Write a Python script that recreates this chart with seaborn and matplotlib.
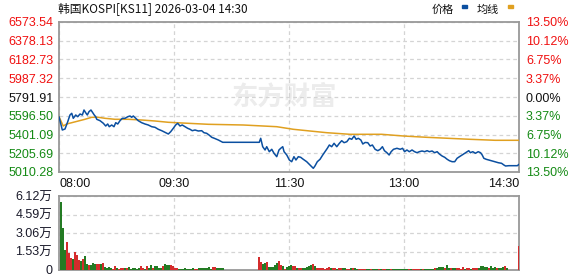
import numpy as np
import pandas as pd
import matplotlib
matplotlib.use("Agg")
import matplotlib.pyplot as plt
import seaborn as sns
from matplotlib.patches import Rectangle

# ---------------- data ----------------
title_text = "韩国KOSPI[KS11] 2026-03-04 14:30"
legend_labels = ["价格", "均线"]
watermark = "东方财富"

time_labels = ["08:00", "09:30", "11:30", "13:00", "14:30"]
time_ticks = [0, 97.5, 195, 292.5, 390]   # minutes from open (390-minute session)

price_ticks = [5010.28, 5205.69, 5401.09, 5596.50, 5791.91,
               5987.32, 6182.73, 6378.13, 6573.54]
pct_labels = ["13.50%", "10.12%", "6.75%", "3.37%", "0.00%",
              "3.37%", "6.75%", "10.12%", "13.50%"]          # bottom -> top

vol_ticks = [0, 1.53, 3.06, 4.59, 6.12]                       # in 万
vol_labels = ["0", "1.53万", "3.06万", "4.59万", "6.12万"]

price_t = [0, 1.7, 2.8, 5.1, 7.4, 9.3, 10.8, 12.1, 14.2, 15.9, 17.8, 19.8, 21.2, 22.6,
           24.0, 25.4, 27.1, 28.6, 29.9, 31.1, 32.0, 34.8, 37.6, 39.6, 41.3, 42.6, 44.7,
           46.6, 48.1, 49.8, 51.7, 53.7, 56.0, 58.3, 60.2, 61.6, 63.0, 65.0, 67.2, 70.1,
           72.9, 75.7, 78.6, 81.4, 84.2, 87.1, 89.9, 92.7, 94.7, 96.9, 98.9, 100.6, 102.6,
           104.5, 106.8, 109.1, 111.1, 113.0, 115.3, 118.1, 121.0, 122.9, 125.2, 127.2,
           129.5, 131.7, 135.1, 138.8, 169.8, 171.0, 172.7, 174.7, 176.1, 178.3, 180.4,
           182.3, 184.6, 186.5, 188.0, 189.7, 190.8, 193.1, 195.3, 197.3, 199.2, 200.9,
           202.9, 204.9, 207.1, 210.0, 212.8, 215.6, 217.0, 219.0, 221.3, 223.6, 225.5,
           227.5, 229.2, 231.2, 233.2, 235.5, 237.7, 239.7, 241.7, 244.0, 246.2, 248.2,
           250.2, 251.9, 253.8, 255.9, 257.6, 259.5, 261.8, 263.8, 265.7, 268.0, 270.3,
           272.3, 274.2, 275.9, 278.0, 279.9, 281.6, 283.6, 286.5, 289.3, 291.3, 293.0,
           295.0, 297.0, 299.3, 301.5, 303.5, 305.5, 307.8, 310.0, 312.1, 314.0, 316.3,
           318.5, 320.6, 322.5, 324.8, 327.0, 329.1, 331.0, 333.3, 335.5, 337.5, 339.5,
           341.8, 344.0, 346.0, 347.4, 348.8, 350.8, 353.1, 355.4, 357.4, 358.8, 360.2,
           362.2, 364.4, 366.7, 369.5, 372.4, 375.2, 377.2, 378.6, 381.4, 385.7, 388.6,
           390.0]
price_v = [5586.6, 5500.1, 5448.0, 5458.4, 5534.5, 5604.3, 5622.0, 5569.9, 5604.3, 5586.6,
           5614.7, 5604.3, 5656.4, 5628.3, 5604.3, 5638.7, 5656.4, 5628.3, 5604.3, 5586.6,
           5559.5, 5544.9, 5517.8, 5489.7, 5510.5, 5482.4, 5500.1, 5482.4, 5524.1, 5510.5,
           5544.9, 5569.9, 5569.9, 5586.6, 5593.9, 5580.4, 5593.9, 5569.9, 5544.9, 5524.1,
           5510.5, 5500.1, 5482.4, 5476.2, 5455.3, 5440.7, 5424.0, 5406.3, 5430.3, 5465.7,
           5500.1, 5517.8, 5489.7, 5500.1, 5482.4, 5465.7, 5455.3, 5440.7, 5448.0, 5437.6,
           5440.7, 5419.9, 5413.6, 5395.9, 5371.9, 5361.5, 5343.8, 5319.8, 5319.8, 5361.5,
           5274.0, 5239.6, 5274.0, 5221.9, 5246.9, 5205.2, 5169.8, 5239.6, 5257.3, 5274.0,
           5221.9, 5187.5, 5135.4, 5117.6, 5169.8, 5135.4, 5169.8, 5163.5, 5142.7, 5117.6,
           5083.2, 5048.8, 5072.8, 5117.6, 5142.7, 5187.5, 5221.9, 5257.3, 5291.7, 5274.0,
           5309.4, 5274.0, 5309.4, 5336.5, 5315.7, 5326.1, 5361.5, 5351.1, 5385.5, 5351.1,
           5361.5, 5343.8, 5302.1, 5318.0, 5315.7, 5281.3, 5291.7, 5246.9, 5232.3, 5246.9,
           5274.0, 5232.3, 5211.4, 5187.5, 5221.9, 5246.9, 5257.3, 5246.9, 5257.3, 5221.9,
           5239.6, 5221.9, 5239.6, 5221.9, 5211.4, 5221.9, 5229.2, 5221.9, 5232.3, 5221.9,
           5229.2, 5211.4, 5221.9, 5197.9, 5177.0, 5163.5, 5142.7, 5128.1, 5117.6, 5117.6,
           5153.1, 5169.8, 5187.5, 5205.2, 5221.9, 5232.3, 5211.4, 5221.9, 5205.2, 5221.9,
           5211.4, 5187.5, 5153.1, 5142.7, 5135.4, 5128.1, 5117.6, 5107.2, 5101.0, 5083.2,
           5072.8, 5076.0, 5076.0, 5076.0, 5090.5]

avg_t = [0, 3.6, 6.5, 10.8, 16.4, 22.0, 27.7, 33.3, 39.0, 47.5, 58.8, 70.1, 81.4, 92.7,
         109.6, 126.6, 156.3, 184.6, 198.7, 212.8, 227.0, 246.7, 273.6, 291.9, 311.7,
         330.1, 348.5, 369.7, 390]
avg_v = [5586.6, 5489.7, 5510.5, 5524.1, 5541.8, 5559.5, 5580.4, 5580.4, 5569.9, 5559.5,
         5559.5, 5552.2, 5541.8, 5528.3, 5517.8, 5507.4, 5500.1, 5482.4, 5455.3, 5437.6,
         5419.9, 5403.2, 5403.2, 5385.5, 5371.9, 5361.5, 5351.1, 5340.7, 5340.7]

# volume per bar (万), bar index 0..229 spans the session
vol_wan = [5.66, 3.50, 1.66, 2.29, 1.40, 1.00, 0.91, 1.45, 1.25, 0.83,
           0.75, 0.95, 1.15, 0.50, 0.41, 0.40, 0.60, 0.50, 0.47, 0.50,
           0.50, 0.58, 0.25, 0.20, 0.28, 0.14, 0.10, 0.33, 0.19, 0.10,
           0.14, 0.14, 0.17, 0.17, 0.28, 0.08, 0.14, 0.14, 0.10, 0.19,
           0.33, 0.19, 0.10, 0.33, 0.19, 0.41, 0.19, 0.33, 0.33, 0.19,
           0.19, 0.33, 0.50, 0.45, 0.41, 0.41, 0.33, 0.19, 0.19, 0.08,
           0.08, 0.08, 0.19, 0.08, 0.08, 0.08, 0.19, 0.08, 0.08, 0.14,
           0.14, 0.14, 0.19, 0.19, 0.28, 0.10, 0.28, 0.28, 0.19, 0.19,
           0.19, 0.14, 0, 0, 0, 0, 0, 0, 0, 0,
           0, 0, 0, 0, 0, 0, 0, 0, 0, 1.10,
           0.69, 0.47, 0.61, 0.63, 0.28, 0.28, 0.28, 0.41, 0.61, 0.75,
           0.41, 0.36, 0.06, 0.22, 0.36, 0.41, 0.33, 0.33, 0.19, 0.16,
           0.14, 0.17, 0.17, 0.25, 0.36, 0.41, 0.47, 0.33, 0.19, 0.14,
           0.14, 0.19, 0.11, 0.14, 0.28, 0.19, 0.14, 0.19, 0.11, 0.14,
           0.14, 0.19, 0.19, 0.11, 0.11, 0.19, 0.19, 0.14, 0.11, 0.08,
           0.08, 0.08, 0.08, 0.08, 0.08, 0.08, 0.08, 0.08, 0.08, 0.08,
           0.08, 0.08, 0.08, 0.08, 0.08, 0.08, 0.08, 0.08, 0.08, 0.08,
           0.08, 0.08, 0.08, 0.08, 0.08, 0.08, 0.08, 0.08, 0.08, 0.08,
           0.08, 0.08, 0.08, 0.08, 0.08, 0.08, 0.08, 0.14, 0.14, 0.28,
           0.28, 0.28, 0.19, 0.41, 0.19, 0.14, 0.19, 0.19, 0.14, 0.14,
           0.11, 0.28, 0.11, 0.14, 0.19, 0.11, 0.14, 0.14, 0.19, 0.19,
           0.33, 0.33, 0.25, 0.28, 0.19, 0.33, 0.19, 0.25, 0.19, 0.19,
           0.14, 0.25, 0.33, 0.14, 0, 0, 0, 0, 0, 1.99]
vol_dir = ("GGGRRRGRRR" "GRGGRGGGRR" "GRGGGGRRGR" "RRGRGGGGGG" "RRGRGGRGGG"
           "GRGGGRRRRG" "GGGGGGGRRG" "GGGGGGRRGG" "GGGGGGGGGG" "GGGGGGGGGR"
           "RGGRGGGGGR" "RGRGGGRRGR" "RGGGGGRGRR" "RRRRRGRRGR" "RGGRRGRGGR"
           "RRRGGRGGGR" "GRRGGRGGGG" "GGGGRGRRRR" "GRGGGGGRGG" "GGRGGRGGRR"
           "RRGRRGRRRG" "GGGGRGGGRG" "GGRGGGGGGR")

# ---------------- style ----------------
sns.set_style("white")
plt.rcParams['font.family'] = ['Liberation Sans', 'Noto Sans CJK SC', 'DejaVu Sans']

BLUE = "#0b4fa0"
GOLD = "#e0a020"
RED = "#f01010"
GREEN = "#148a14"
SPINE = "#999999"
GRID = "#d4d4d4"
DASH = (0, (3, 2.5))

W, H = 578, 276
fig = plt.figure(figsize=(W / 100, H / 100), dpi=100)
ax = fig.add_axes([59 / W, 1 - 172 / H, 460 / W, 150 / H])
axv = fig.add_axes([59 / W, 1 - 270 / H, 460 / W, 74 / H])

# ---------------- price panel ----------------
ax.text(0.49, 0.5, watermark, transform=ax.transAxes, ha='center', va='center',
        fontsize=19, fontweight='bold', color='#ececec', style='italic',
        family=['Noto Sans CJK SC'], zorder=0)

sns.lineplot(x=avg_t, y=avg_v, ax=ax, color=GOLD, linewidth=1.1,
             sort=False, estimator=None, zorder=3)
sns.lineplot(x=price_t, y=price_v, ax=ax, color=BLUE, linewidth=1.1,
             sort=False, estimator=None, zorder=4)

ax.set_xlim(time_ticks[0], time_ticks[-1])
ax.set_ylim(price_ticks[0], price_ticks[-1])
ax.set_xticks(time_ticks)
ax.set_xticklabels(time_labels)
ax.set_yticks(price_ticks)
ax.set_yticklabels([f"{v:.2f}" for v in price_ticks])
ax.set_xlabel("")
ax.set_ylabel("")
ax.grid(True, color=GRID, linestyle=DASH, linewidth=0.9)
ax.tick_params(length=0, labelsize=9, pad=4)
ax.tick_params(axis='x', pad=4)
xl = ax.get_xticklabels()
xl[0].set_ha('left')
xl[-1].set_ha('right')
for lab in xl:
    lab.set_color('#111111')

n_mid = len(price_ticks) // 2
for i, lab in enumerate(ax.get_yticklabels()):
    lab.set_color(RED if i > n_mid else ('#111111' if i == n_mid else GREEN))

ax2 = ax.twinx()
ax2.set_ylim(price_ticks[0], price_ticks[-1])
ax2.set_yticks(price_ticks)
ax2.set_yticklabels(pct_labels)
ax2.tick_params(length=0, labelsize=9, pad=5)
for i, lab in enumerate(ax2.get_yticklabels()):
    lab.set_color(RED if i > n_mid else ('#111111' if i == n_mid else GREEN))
for sp in ax2.spines.values():
    sp.set_visible(False)
for sp in ax.spines.values():
    sp.set_visible(True)
    sp.set_color(SPINE)
    sp.set_linewidth(1.3)

# ---------------- volume panel ----------------
nbar = len(vol_wan)
vdf = pd.DataFrame({"k": np.arange(nbar), "vol": vol_wan, "dir": list(vol_dir)})
vdf = vdf[vdf["vol"] > 0]
sns.barplot(data=vdf, x="k", y="vol", hue="dir", palette={"R": RED, "G": GREEN},
            native_scale=True, dodge=False, width=1.0, linewidth=0,
            errorbar=None, legend=False, ax=axv, zorder=3)

axv.set_xlim(-1, nbar - 1)
axv.set_ylim(vol_ticks[0], vol_ticks[-1])
axv.set_xticks([t / time_ticks[-1] * nbar - 1 for t in time_ticks])
axv.set_xticklabels([])
axv.set_yticks(vol_ticks)
axv.set_yticklabels(vol_labels)
axv.set_xlabel("")
axv.set_ylabel("")
axv.grid(True, color=GRID, linestyle=DASH, linewidth=0.9)
axv.tick_params(length=0, labelsize=9, pad=5)
for lab in axv.get_yticklabels():
    lab.set_color('#1a1a2a')
for sp in axv.spines.values():
    sp.set_visible(True)
    sp.set_color(SPINE)
    sp.set_linewidth(1.3)

# ---------------- header ----------------
fig.text(58 / W, 1 - 9 / H, title_text, ha='left', va='center', fontsize=8.5,
         color='#111111', family=['Noto Sans CJK SC', 'DejaVu Sans'])
fig.text(432 / W, 1 - 10 / H, legend_labels[0], ha='left', va='center', fontsize=8,
         color='#111111', family=['Noto Sans CJK SC'])
fig.text(477 / W, 1 - 10 / H, legend_labels[1], ha='left', va='center', fontsize=8,
         color='#111111', family=['Noto Sans CJK SC'])
fig.patches.append(Rectangle((462 / W, 1 - 8 / H), 5 / W, 3 / H,
                             transform=fig.transFigure, color=BLUE, figure=fig))
fig.patches.append(Rectangle((508 / W, 1 - 8 / H), 5 / W, 3 / H,
                             transform=fig.transFigure, color=GOLD, figure=fig))

fig.savefig("out.png", dpi=100)
